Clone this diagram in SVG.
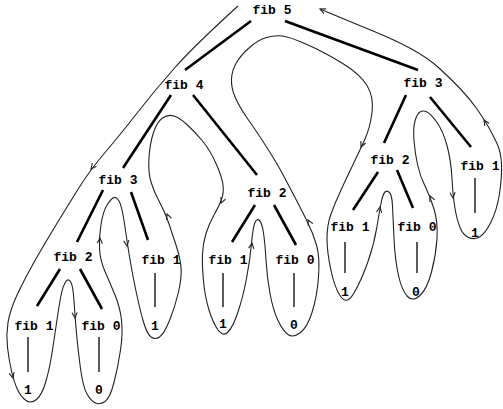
<svg xmlns="http://www.w3.org/2000/svg" xmlns:xlink="http://www.w3.org/1999/xlink" width="503" height="409" viewBox="0 0 503 409">
<style>
  .lbl { font-family: "Liberation Mono", "DejaVu Sans Mono", monospace; font-size: 13px; font-weight: bold; fill: #000; text-anchor: middle; }
  .edge { stroke: #000; stroke-width: 2.6; stroke-linecap: butt; fill: none; }
  .leafline { stroke: #000; stroke-width: 1.3; fill: none; }
  .tour { stroke: #222; stroke-width: 1.1; fill: none; stroke-linejoin: round; }
</style>
<defs>
  <path id="ah" d="M-5.5,-2.6 L0,0 L-5.5,2.6" fill="none" stroke="#222" stroke-width="1.1"/>
</defs>
<rect width="503" height="409" fill="#fff"/>

<g id="connectors">
  <line class="edge" x1="251" y1="21" x2="185" y2="70"/>
  <line class="edge" x1="285" y1="21" x2="418" y2="70"/>
  <line class="edge" x1="171" y1="95" x2="123" y2="168"/>
  <line class="edge" x1="193" y1="95" x2="257" y2="175"/>
  <line class="edge" x1="406" y1="95" x2="384" y2="143"/>
  <line class="edge" x1="430" y1="97" x2="471" y2="147"/>
  <line class="edge" x1="103" y1="190" x2="77" y2="242"/>
  <line class="edge" x1="131" y1="192" x2="148" y2="240"/>
  <line class="edge" x1="255" y1="205" x2="232" y2="242"/>
  <line class="edge" x1="274" y1="205" x2="296" y2="245"/>
  <line class="edge" x1="378" y1="172" x2="353" y2="210"/>
  <line class="edge" x1="397" y1="170" x2="413" y2="208"/>
  <line class="edge" x1="60" y1="269" x2="37" y2="306"/>
  <line class="edge" x1="80" y1="269" x2="102" y2="309"/>
  <line class="leafline" x1="28" y1="337" x2="28" y2="372"/>
  <line class="leafline" x1="99" y1="337" x2="99" y2="372"/>
  <line class="leafline" x1="155" y1="273" x2="155" y2="307"/>
  <line class="leafline" x1="223" y1="273" x2="223" y2="307"/>
  <line class="leafline" x1="294" y1="273" x2="294" y2="307"/>
  <line class="leafline" x1="345" y1="242" x2="345" y2="273"/>
  <line class="leafline" x1="417" y1="242" x2="417" y2="273"/>
  <line class="leafline" x1="475" y1="178" x2="475" y2="213"/>
</g>

<g id="tour">
  <path class="tour" d="M238,6 Q195,45 175,67.5 T137.5,112.5 T105,152.5 T78.5,188.5 T56,225 T35,260.5 T17.5,294 T8,322.5 T7.5,347.5 T11.5,371 T17.5,389.5 T26,400.5 T36.5,399.5 T46,381 T52.5,350 T57.5,316.5 T61.5,293 T65.5,282 T70.5,281.5 T74,301 T76.5,333.5 T80.5,368.5 T87,394 T95.5,403 T105,401.5 T114,382.5 T120.5,350 T121.5,320 T115,295 T105,271.5 T99.5,248.5 T101,224.5 T106.5,206 T113,198 T119,201 T125,227 T130.5,262.5 T136.5,293.5 T143.5,322 T151,337 T159.5,337 T169.5,320.5 T178.5,292 T181,267 T176,245 T168.5,222.5 T159.5,202 T151,182 T149,157.5 T153.5,132.5 T162.5,118 T174,116 T187.5,125 T202.5,141 T216,163.5 T223,185 T221.5,199.5 T214,215 T206,233.5 T202.5,254 T203.5,281 T209,310 T218,330 T228,332 T238,312 T246.5,278.5 T251.5,243.5 T255,222.5 T259.5,220.5 T263.5,233 T266,260 T270,293.5 T278,320.5 T288,334.5 T300,333 T312,312.5 T318.5,277 T316.5,245 T306.5,220 T295.5,198.5 T284.5,177.5 T267.5,148.5 T248.5,120 T235.5,98 T231.5,79 T236.5,62.5 T249.5,47.5 T266.5,37.5 T282.5,36 T307,44.5 T342,63 T367,85.5 T372,112.5 T365,139 T353.5,163.5 T341,190 T331,214 T327,238.5 T331,270.5 T341,297 T354,293 T367.5,263 T377,226.5 T381.5,201 T385,192 T389.5,192.5 T392.5,206 T394,238.5 T398.5,275.5 T407.5,296.5 T420,295.5 T431.5,272 T437,238.5 T434,209 T425,186 T417.5,164.5 T414,140.5 T415,121 T420,112 T427,112 T437,122.5 T447,145.5 T452,178.5 T455,208.5 T460,227.5 T468.5,237.5 T479.5,237 T491,222 T499.5,193.5 T501.5,164.5 T497,143.5 T488.5,127 T477,109 T460,88.5 T439,68 T411.5,49 T373,31 T320,9"/>
  <use xlink:href="#ah" transform="translate(91,169) rotate(128)"/>
  <use xlink:href="#ah" transform="translate(13,378) rotate(75)"/>
  <use xlink:href="#ah" transform="translate(75,318) rotate(86)"/>
  <use xlink:href="#ah" transform="translate(100,238) rotate(-87)"/>
  <use xlink:href="#ah" transform="translate(127,246) rotate(82)"/>
  <use xlink:href="#ah" transform="translate(167,214) rotate(-112)"/>
  <use xlink:href="#ah" transform="translate(221,203) rotate(115)"/>
  <use xlink:href="#ah" transform="translate(252,243) rotate(-82)"/>
  <use xlink:href="#ah" transform="translate(308,220) rotate(-118)"/>
  <use xlink:href="#ah" transform="translate(361,147) rotate(114)"/>
  <use xlink:href="#ah" transform="translate(380,207) rotate(-80)"/>
  <use xlink:href="#ah" transform="translate(430,196) rotate(-115)"/>
  <use xlink:href="#ah" transform="translate(453,198) rotate(85)"/>
  <use xlink:href="#ah" transform="translate(484,120) rotate(-122)"/>
  <use xlink:href="#ah" transform="translate(320,9) rotate(204)"/>
</g>

<g id="fib5"><text class="lbl" x="272" y="14">fib 5</text></g>
<g id="fib4"><text class="lbl" x="184" y="89">fib 4</text></g>
<g id="fib3-right"><text class="lbl" x="423" y="87">fib 3</text></g>
<g id="fib3-left"><text class="lbl" x="118" y="184">fib 3</text></g>
<g id="fib2-mid"><text class="lbl" x="267" y="197">fib 2</text></g>
<g id="fib2-right"><text class="lbl" x="390" y="164">fib 2</text></g>
<g id="fib1-far-right"><text class="lbl" x="480" y="170">fib 1</text></g>
<g id="fib2-left"><text class="lbl" x="73" y="261">fib 2</text></g>
<g id="fib1-mid-left"><text class="lbl" x="161" y="264">fib 1</text></g>
<g id="fib1-mid"><text class="lbl" x="228" y="264">fib 1</text></g>
<g id="fib0-mid"><text class="lbl" x="295" y="264">fib 0</text></g>
<g id="fib1-right"><text class="lbl" x="350" y="231">fib 1</text></g>
<g id="fib0-right"><text class="lbl" x="417" y="231">fib 0</text></g>
<g id="fib1-far-left"><text class="lbl" x="34" y="330">fib 1</text></g>
<g id="fib0-left"><text class="lbl" x="101" y="330">fib 0</text></g>
<g id="leaf1-a"><text class="lbl" x="28" y="394">1</text></g>
<g id="leaf0-a"><text class="lbl" x="99" y="394">0</text></g>
<g id="leaf1-b"><text class="lbl" x="155" y="330">1</text></g>
<g id="leaf1-c"><text class="lbl" x="223" y="328">1</text></g>
<g id="leaf0-b"><text class="lbl" x="294" y="329">0</text></g>
<g id="leaf1-d"><text class="lbl" x="345" y="296">1</text></g>
<g id="leaf0-c"><text class="lbl" x="416" y="296">0</text></g>
<g id="leaf1-e"><text class="lbl" x="475" y="237">1</text></g>
</svg>
